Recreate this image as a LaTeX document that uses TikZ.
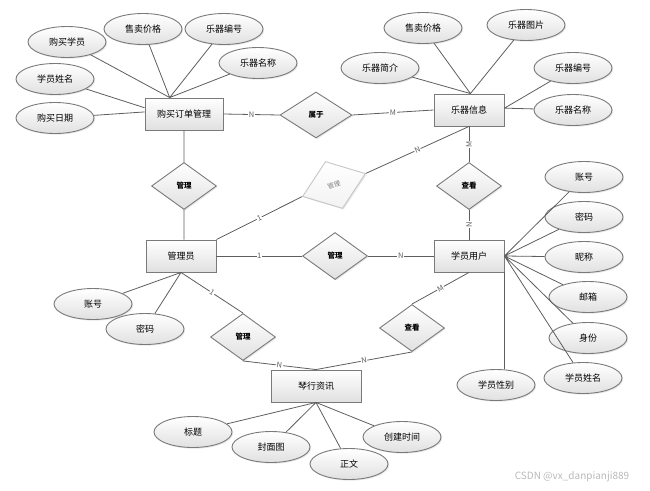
\documentclass[tikz,border=0pt]{standalone}
\usepackage{fontspec}
\setmainfont{Noto Sans CJK SC}
\usetikzlibrary{shapes.geometric,shadows}
\definecolor{linegray}{HTML}{5E5E5E}
\definecolor{boxgray}{HTML}{7A7A7A}
\tikzset{
    erfill/.style={draw=boxgray, line width=0.9pt, top color=white, bottom color=gray!24,
        drop shadow={opacity=0.18, shadow xshift=1.2pt, shadow yshift=-1.2pt}},
    ent/.style={erfill, rectangle, minimum width=70pt, minimum height=32pt, inner sep=0pt,
        font=\fontsize{9}{10}\selectfont},
    attr/.style={erfill, ellipse, minimum width=78pt, minimum height=31pt, inner sep=0pt,
        font=\fontsize{9}{10}\selectfont},
    rel/.style={erfill, diamond, minimum width=65pt, minimum height=47pt, inner sep=0pt,
        font=\fontsize{7.5}{8}\selectfont\bfseries},
    card/.style={fill=white, inner sep=0.6pt, font=\fontsize{7.5}{8}\selectfont}
}
\begin{document}
\begin{tikzpicture}[x=1pt, y=-1pt]
                        \useasboundingbox (0,0) rectangle (650,490);
                        \node[ent, minimum width=78pt] (gm) at (184,114) {购买订单管理};
                        \node[ent] (ji) at (469,110) {乐器信息};
                        \node[ent] (gy) at (181,256) {管理员};
                        \node[ent] (xy) at (469,256) {学员用户};
                        \node[ent, minimum width=90pt] (qh) at (316,386) {琴行资讯};
                        \node[rel, minimum width=72pt, minimum height=46pt] (sy) at (316,115) {属于};
                        \node[rel] (gl1) at (184,186) {管理};
                        \node[rel, draw=gray!45, top color=white, bottom color=gray!10, text=gray,
                            font=\fontsize{6.5}{7}\selectfont, rotate=20,
                            minimum width=67pt, minimum height=50pt] (gl2) at (334,185) {管理};
                        \node[rel] (ck1) at (469,186) {查看};
                        \node[rel] (gl3) at (335,256) {管理};
                        \node[rel] (gl4) at (243,337) {管理};
                        \node[rel] (ck2) at (412,328) {查看};
                        \node[attr] (gm1) at (67,42) {购买学员};
                        \node[attr] (gm2) at (143,29) {售卖价格};
                        \node[attr] (gm3) at (224,29) {乐器编号};
                        \node[attr] (gm4) at (258,63) {乐器名称};
                        \node[attr] (gm5) at (55,79) {学员姓名};
                        \node[attr] (gm6) at (55,118) {购买日期};
                        \node[attr] (ji1) at (423,28) {售卖价格};
                        \node[attr] (ji2) at (526,25) {乐器图片};
                        \node[attr] (ji3) at (380,68) {乐器简介};
                        \node[attr] (ji4) at (573,68) {乐器编号};
                        \node[attr] (ji5) at (573,110) {乐器名称};
                        \node[attr] (xy1) at (584,177) {账号};
                        \node[attr] (xy2) at (584,217) {密码};
                        \node[attr] (xy3) at (584,257) {昵称};
                        \node[attr] (xy4) at (588,297) {邮箱};
                        \node[attr] (xy5) at (588,338) {身份};
                        \node[attr] (xy6) at (583,378) {学员姓名};
                        \node[attr] (xy7) at (496,385) {学员性别};
                        \node[attr] (gy1) at (93,304) {账号};
                        \node[attr] (gy2) at (145,329) {密码};
                        \node[attr] (qh1) at (193,432) {标题};
                        \node[attr] (qh2) at (271,447) {封面图};
                        \node[attr] (qh3) at (349,464) {正文};
                        \node[attr] (qh4) at (402,437) {创建时间};
                        \node[text=gray!55, font=\fontsize{10}{11}\selectfont] (wm) at (572,477) {CSDN @vx\_danpianji889};
                        \draw[linegray, line width=0.8pt]
                        (gm1) -- (gm.131) (gm2) -- (gm.131) (gm3) -- (gm.131)
                        (gm4) -- (gm.131) (gm5) -- (gm.171) (gm6) -- (gm.177)
                        (ji1) -- (ji.85) (ji2) -- (ji.85) (ji3) -- (ji.85)
                        (ji4) -- (ji.3) (ji5) -- (ji.3)
                        (xy1) -- (xy.east) (xy2) -- (xy.east) (xy3) -- (xy.east)
                        (xy4) -- (xy.east) (xy5) -- (xy.east) (xy6) -- (xy.east)
                        (xy.south east) -- (xy.south east |- xy7.north)
                        (gy1) -- (gy.south) (gy2) -- (gy.south)
                        (qh1) -- (qh.south) (qh2) -- (qh.south)
                        (qh3) -- (qh.south) (qh4) -- (qh.south)
                        (gm.south) -- (gl1.north)
                        (gl1.south) -- (gl1.south |- gy.north);
                        \draw[linegray, line width=0.8pt]
                        (gm.east) edge node[card]{N} (sy.west)
                        (sy.east) edge node[card]{M} (ji.west)
                        (ji.south) edge node[card, rotate=90]{M} (ck1.north)
                        (ck1.south) edge node[card, rotate=90]{N} (xy.north)
                        (ji.south) edge node[card, sloped]{N} (gl2.east)
                        (gl2.west) edge node[card, sloped]{1} (gy.north east)
                        (gy.east) edge node[card]{1} (gl3.west)
                        (gl3.east) edge node[card]{N} (xy.west)
                        (gy.south) edge node[card, sloped]{1} (gl4.north)
                        (gl4.south) edge node[card, sloped]{N} (qh.north)
                        (xy.south) edge node[card, sloped]{M} (ck2.north)
                        (ck2.south) edge node[card, sloped]{N} (qh.north);
                    \end{tikzpicture}
\end{document}
